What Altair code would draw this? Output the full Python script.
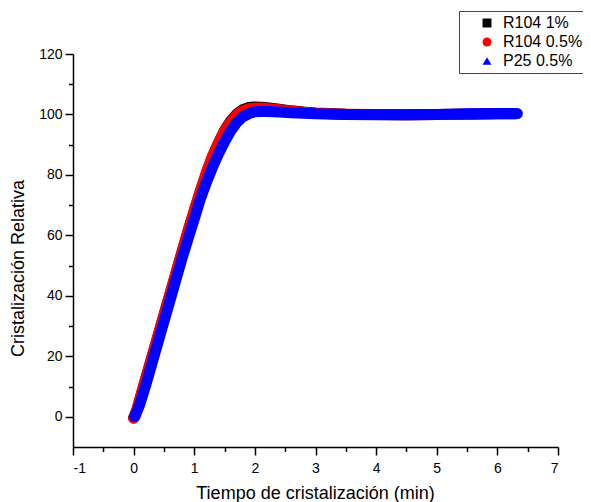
import altair as alt
import pandas as pd

# ---- data ----
x_black = [0.0, 0.05, 0.1, 0.2, 0.3, 0.4, 0.5, 0.6, 0.7, 0.8, 0.9, 1.0, 1.1, 1.2, 1.3, 1.4, 1.5, 1.6, 1.7, 1.8, 1.9, 2.0, 2.1, 2.2, 2.4, 2.6, 2.8, 3.0, 3.5, 4.0, 4.5, 5.0, 5.5, 6.0, 6.3]
y_black = [-0.3, 2.0, 5.5, 12.5, 19.5, 26.5, 33.5, 40.5, 47.5, 54.5, 61.5, 68.0, 74.5, 80.5, 86.0, 90.6, 94.7, 97.8, 100.1, 101.6, 102.3, 102.5, 102.4, 102.2, 101.7, 101.2, 100.8, 100.5, 100.1, 100.0, 99.9, 100.0, 100.1, 100.2, 100.2]

x_red = [0.0, 0.05, 0.1, 0.2, 0.3, 0.4, 0.5, 0.6, 0.7, 0.8, 0.9, 1.0, 1.1, 1.2, 1.3, 1.4, 1.5, 1.6, 1.7, 1.8, 1.9, 2.0, 2.1, 2.2, 2.4, 2.6, 2.8, 3.0, 3.5, 4.0, 4.5, 5.0, 5.5, 6.0, 6.3]
y_red = [-0.5, 2.2, 5.8, 12.8, 19.8, 26.8, 33.8, 40.8, 47.8, 54.8, 61.8, 68.3, 74.8, 80.8, 86.2, 90.6, 94.5, 97.5, 99.8, 101.2, 101.9, 102.1, 102.1, 102.0, 101.6, 101.1, 100.7, 100.4, 100.1, 100.0, 99.9, 100.0, 100.1, 100.2, 100.2]

x_blue = [0.02, 0.05, 0.1, 0.2, 0.3, 0.4, 0.5, 0.6, 0.7, 0.8, 0.9, 1.0, 1.1, 1.2, 1.3, 1.4, 1.5, 1.6, 1.7, 1.8, 1.9, 2.0, 2.1, 2.2, 2.4, 2.6, 2.8, 3.0, 3.5, 4.0, 4.5, 5.0, 5.5, 6.0, 6.33]
y_blue = [0.0, 1.5, 4.0, 10.5, 17.5, 24.5, 31.5, 38.5, 45.5, 52.5, 59.0, 65.5, 72.0, 77.5, 82.5, 87.0, 91.0, 94.5, 97.3, 99.2, 100.3, 100.9, 101.0, 101.0, 100.8, 100.6, 100.4, 100.2, 100.0, 99.9, 99.9, 100.0, 100.2, 100.3, 100.3]

series_names = ["R104 1%", "R104 0.5%", "P25 0.5%"]
series_colors = ["#000000", "#ff0000", "#0000ff"]
series_shapes = ["square", "circle", "triangle-up"]

x_ticks = [v / 2 for v in range(-2, 15)]
y_ticks = list(range(0, 121, 10))

frames = []
for name, xs, ys in zip(series_names, [x_black, x_red, x_blue], [y_black, y_red, y_blue]):
    frames.append(pd.DataFrame({"x": xs, "y": ys, "serie": name}))
df = pd.concat(frames, ignore_index=True)

FONT = "Liberation Sans"

x_enc = alt.X(
    "x:Q",
    scale=alt.Scale(domain=[-1, 7], nice=False, zero=False),
    axis=alt.Axis(
        values=x_ticks,
        labelExpr="datum.value % 1 == 0 ? '' + datum.value : ''",
        tickSize={"condition": {"test": "datum.value % 1 != 0", "value": 4.5}, "value": 8},
        title="Tiempo de cristalización (min)",
        titleX=242, titleY=51, titleBaseline="alphabetic", titleAlign="center",
        labelPadding=6,
    ),
)
y_enc = alt.Y(
    "y:Q",
    scale=alt.Scale(domain=[-10, 120], nice=False, zero=False),
    axis=alt.Axis(
        values=y_ticks,
        labelExpr="datum.value % 20 == 0 ? '' + datum.value : ''",
        tickSize={"condition": {"test": "datum.value % 20 != 0", "value": 4.5}, "value": 8},
        title="Cristalización Relativa",
        titleX=-55, titleY=214, titleBaseline="middle", titleAlign="center", titleAngle=-90,
        labelPadding=3,
    ),
)

base = alt.Chart(df)

# points (hidden under the thick lines) carry the legend
legend_layer = base.mark_point(filled=True, size=15, opacity=1).encode(
    x=x_enc,
    y=y_enc,
    color=alt.Color(
        "serie:N",
        scale=alt.Scale(domain=series_names, range=series_colors),
        legend=alt.Legend(
            title=None, orient="none", legendX=386, legendY=-43,
            strokeColor="#444444", padding=4, symbolOffset=16,
            labelFontSize=16, labelFont=FONT, labelColor="#000000",
            symbolSize=80, symbolStrokeWidth=0,
            rowPadding=3, labelOffset=8,
        ),
    ),
    shape=alt.Shape(
        "serie:N",
        scale=alt.Scale(domain=series_names, range=series_shapes),
    ),
)

layers = [legend_layer]
for name, col in zip(series_names, series_colors):
    layers.append(
        base.transform_filter(alt.datum.serie == name)
        .mark_line(strokeWidth=11, strokeCap="round", strokeJoin="round", color=col)
        .encode(x=x_enc, y=y_enc, order=alt.Order("x:Q"))
    )

chart = (
    alt.layer(*layers)
    .properties(
        width=485,
        height=393,
        autosize=alt.AutoSizeParams(type="none"),
        padding={"left": 65, "top": 46, "right": 25, "bottom": 55},
        background="white",
    )
    .configure_view(stroke=None)
    .configure_axis(
        grid=False,
        domainColor="#000000", domainWidth=1.5,
        tickColor="#000000", tickWidth=1.5,
        labelFont=FONT, labelFontSize=14, labelColor="#000000",
        titleFont=FONT, titleFontSize=18, titleFontWeight="normal", titleColor="#000000",
    )
)

chart.save("out.html", embed_options={"renderer": "svg", "actions": False})
